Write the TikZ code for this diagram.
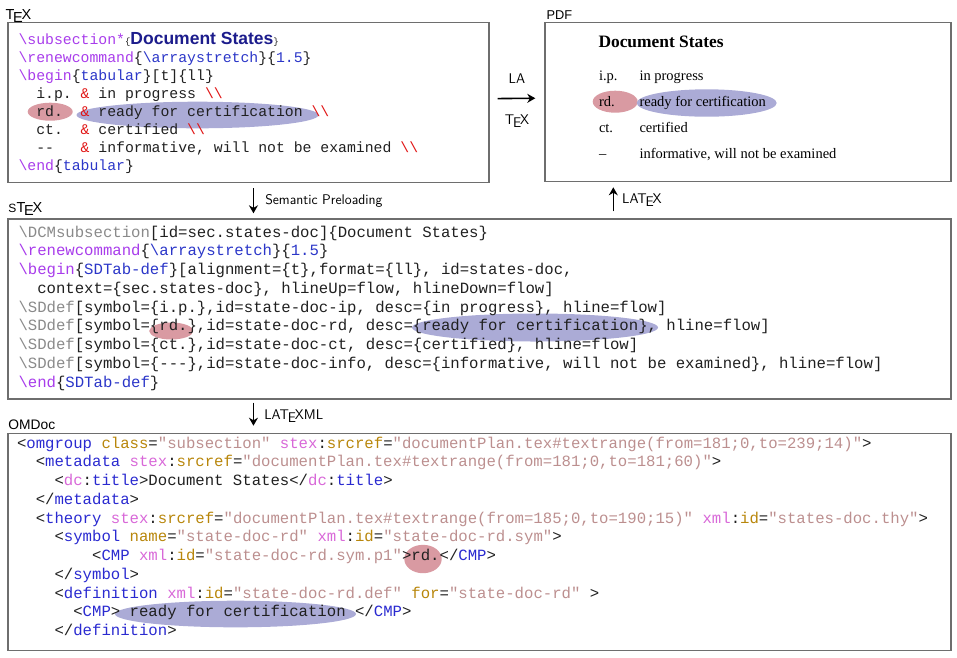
\documentclass[tikz,border=0pt]{standalone}
\usepackage{fontspec}
\setmonofont{Liberation Mono}
\newfontfamily\pdffont{Liberation Serif}
\newfontfamily\lblfont{Liberation Sans}
\usetikzlibrary{arrows.meta, positioning}
\definecolor{cviolet}{HTML}{A83CEB}
\definecolor{cblue}{HTML}{2B36C8}
\definecolor{cdblue}{HTML}{1C1C8C}
\definecolor{cred}{HTML}{E01414}
\definecolor{cgrey}{HTML}{8A8A8A}
\definecolor{cink}{HTML}{202020}
\definecolor{cframe}{HTML}{6E6E6E}
\definecolor{ctag}{HTML}{2A2AD0}
\definecolor{catt}{HTML}{B8860B}
\definecolor{cns}{HTML}{D868D8}
\definecolor{cval}{HTML}{BC8F8F}
\definecolor{cpink}{HTML}{D99AA2}
\definecolor{clav}{HTML}{ABABD6}
\newcommand\logotex{T\kern-.08em\lower.4ex\hbox{E}\kern-.08emX}
\newcommand\tcmd[1]{\textcolor{cviolet}{\textbackslash#1}}
\newcommand\gcmd[1]{\textcolor{cgrey}{\textbackslash#1}}
\newcommand\bluetx[1]{\textcolor{cblue}{#1}}
\newcommand\redtx[1]{\textcolor{cred}{#1}}
\newcommand\xtag[1]{\textcolor{ctag}{#1}}
\newcommand\xatt[1]{\textcolor{catt}{#1}}
\newcommand\xns[1]{\textcolor{cns}{#1}}
\newcommand\xval[1]{\textcolor{cval}{#1}}
\tikzset{
  every picture/.style={line width=1pt},
  panel/.style={draw=cframe, line width=1.3pt, anchor=north west, inner sep=0pt},
  arrow/.style={-{Stealth[length=8pt, width=9pt]}, draw=black, line width=1.6pt},
  code/.style={anchor=base west, inner sep=0pt, text=cink, font=\ttfamily\fontsize{15.65}{18}\selectfont},
  title/.style={anchor=base west, inner sep=0pt, font=\lblfont\fontsize{14}{15}\selectfont},
  note/.style={font=\sffamily\fontsize{14}{14}\selectfont, inner sep=2pt},
  pdftext/.style={anchor=base west, inner sep=0pt, font=\pdffont\fontsize{14.5}{16}\selectfont},
  hired/.style={fill=cpink},
  hiblue/.style={fill=clav},
}

\begin{document}
\begin{tikzpicture}[x=1pt, y=-1pt]
  \useasboundingbox (0,0) rectangle (957,657);
  % panels
  \node[panel, minimum width=481pt, minimum height=160pt] (tex) at (7.3,22) {};
  \node[panel, minimum width=406pt, minimum height=159pt] (pdf) at (544.3,22) {};
  \node[panel, minimum width=943pt, minimum height=180pt] (stex) at (7.3,218.3) {};
  \node[panel, minimum width=943pt, minimum height=217pt] (omdoc) at (7.3,432.7) {};
  \node[title, font=\lblfont\fontsize{14.5}{15}\selectfont] (texlbl) at (5,19) {\logotex};
  \node[title, font=\lblfont\fontsize{12.8}{14}\selectfont] (pdflbl) at (546,19.5) {PDF};
  \node[title, font=\lblfont\fontsize{14.5}{15}\selectfont] (stexlbl) at (8,212) {{\fontsize{12}{12}\selectfont S}\logotex};
  \node[title, font=\lblfont\fontsize{13.8}{15}\selectfont] (omlbl) at (8,429.5) {OMDoc};
  % highlights
  \fill[hired] (50.2,111.7) ellipse [x radius=22.5pt, y radius=9pt];
  \fill[hiblue] (197.5,115) ellipse [x radius=121pt, y radius=13.3pt];
  \fill[hired] (615.2,101.7) ellipse [x radius=22.5pt, y radius=11pt];
  \fill[hiblue] (706.7,103) ellipse [x radius=70pt, y radius=13.7pt];
  \fill[hired] (171.2,331) ellipse [x radius=22pt, y radius=8.5pt];
  \fill[hiblue] (535,327.5) ellipse [x radius=123pt, y radius=14pt];
  \fill[hired] (423,559) ellipse [x radius=18.7pt, y radius=14.2pt];
  \fill[hiblue] (235.5,614) ellipse [x radius=120.5pt, y radius=13.3pt];
  % TeX source
  \foreach \l [count=\i] in {
    {\tcmd{subsection*}{\fontsize{9}{9}\selectfont\{}{\lblfont\bfseries\fontsize{17.5}{18}\selectfont\color{cdblue}Document States}{\fontsize{9}{9}\selectfont\}}},
    {\tcmd{renewcommand}\{\bluetx{\textbackslash arraystretch}\}\{\bluetx{1.5}\}},
    {\tcmd{begin}\{\bluetx{tabular}\}[t]\{ll\}},
    {~~i.p.~\redtx{\&}~in progress \redtx{\textbackslash\textbackslash}},
    {~~rd.~~\redtx{\&}~ready for certification \redtx{\textbackslash\textbackslash}},
    {~~ct.~~\redtx{\&}~certified \redtx{\textbackslash\textbackslash}},
    {~~--~~~\redtx{\&}~informative, will not be examined \redtx{\textbackslash\textbackslash}},
    {\tcmd{end}\{\bluetx{tabular}\}}}
    \node[code, font=\ttfamily\fontsize{14.8}{18}\selectfont] (t\i) at (18,26+18*\i) {\l};
  % PDF output
  \node[pdftext, font=\pdffont\bfseries\fontsize{17.4}{18}\selectfont] (ptitle) at (598,47) {Document States};
  \foreach \a/\b [count=\i] in {i.p./in progress, rd./ready for certification, ct./certified, \textendash/{informative, will not be examined}} {
    \node[pdftext] (p\i) at (598.5,54+26*\i) {\a};
    \node[pdftext] (q\i) at (639,54+26*\i) {\b};
  }
  % sTeX source
  \foreach \l [count=\i] in {
    {\gcmd{DCMsubsection}[id=sec.states-doc]\{Document States\}},
    {\tcmd{renewcommand}\{\bluetx{\textbackslash arraystretch}\}\{\bluetx{1.5}\}},
    {\tcmd{begin}\{\bluetx{SDTab-def}\}[alignment=\{t\},format=\{ll\}, id=states-doc,},
    {~~context=\{sec.states-doc\}, hlineUp=flow, hlineDown=flow]},
    {\gcmd{SDdef}[symbol=\{i.p.\},id=state-doc-ip, desc=\{in progress\}, hline=flow]},
    {\gcmd{SDdef}[symbol=\{rd.\},id=state-doc-rd, desc=\{ready for certification\}, hline=flow]},
    {\gcmd{SDdef}[symbol=\{ct.\},id=state-doc-ct, desc=\{certified\}, hline=flow]},
    {\gcmd{SDdef}[symbol=\{---\},id=state-doc-info, desc=\{informative, will not be examined\}, hline=flow]},
    {\tcmd{end}\{\bluetx{SDTab-def}\}}}
    \node[code] (s\i) at (18,218.25+18.75*\i) {\l};
  % OMDoc
  \foreach \l [count=\i] in {
    {<\xtag{omgroup} \xatt{class}=\xval{"subsection"} \xns{stex}:\xatt{srcref}=\xval{"documentPlan.tex\#textrange(from=181;0,to=239;14)"}>},
    {~~<\xtag{metadata} \xns{stex}:\xatt{srcref}=\xval{"documentPlan.tex\#textrange(from=181;0,to=181;60)"}>},
    {~~~~<\xns{dc}:\xtag{title}>Document States</\xns{dc}:\xtag{title}>},
    {~~</\xtag{metadata}>},
    {~~<\xtag{theory} \xns{stex}:\xatt{srcref}=\xval{"documentPlan.tex\#textrange(from=185;0,to=190;15)"} \xns{xml}:\xatt{id}=\xval{"states-doc.thy"}>},
    {~~~~<\xtag{symbol} \xatt{name}=\xval{"state-doc-rd"} \xns{xml}:\xatt{id}=\xval{"state-doc-rd.sym"}>},
    {~~~~~~~~<\xtag{CMP} \xns{xml}:\xatt{id}=\xval{"state-doc-rd.sym.p1"}>rd.</\xtag{CMP}>},
    {~~~~</\xtag{symbol}>},
    {~~~~<\xtag{definition} \xns{xml}:\xatt{id}=\xval{"state-doc-rd.def"} \xatt{for}=\xval{"state-doc-rd"} >},
    {~~~~~~<\xtag{CMP}> ready for certification </\xtag{CMP}>},
    {~~~~</\xtag{definition}>}}
    \node[code] (o\i) at (16.5,429.25+18.75*\i) {\l};
  % transformation steps
  \coordinate (dn) at ([xshift=5pt]tex.south);
  \coordinate (up) at ([xshift=69pt]pdf.south west);
  \draw[arrow, shorten <=8pt, shorten >=9pt] ([yshift=4pt]tex.east) -- node[note, above=12pt] (la1) {LA} node[note, below=14pt] (la2) {\logotex} ([yshift=4pt]pdf.west);
  \draw[arrow, shorten <=5pt, shorten >=5pt] (dn |- tex.south) -- node[note, right=9pt] (sp) {Semantic Preloading} (dn |- stex.north);
  \draw[arrow, shorten <=7pt, shorten >=5pt] (up |- stex.north) -- node[note, right=6pt] (lt) {LA\logotex} (up);
  \draw[arrow, shorten <=3pt, shorten >=7pt] (dn |- stex.south) -- node[note, right=8pt] (lx) {LA\logotex ML} (dn |- omdoc.north);
\end{tikzpicture}
\end{document}
